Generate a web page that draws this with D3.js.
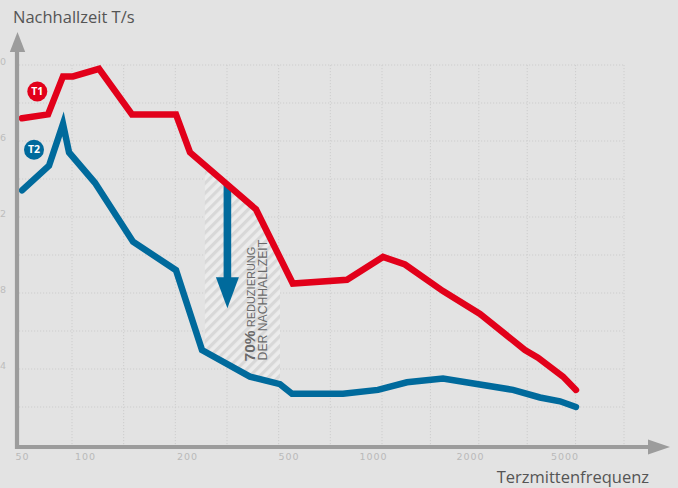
<!DOCTYPE html>
<html>
<head>
<meta charset="utf-8">
<script src="https://cdn.jsdelivr.net/npm/d3@7/dist/d3.min.js"></script>
<style>
  html, body { margin: 0; padding: 0; background: #e3e3e3; }
  svg { display: block; }
</style>
</head>
<body>
<svg id="chart" width="678" height="488"></svg>
<script>
// Third-octave frequencies (Hz) and reverberation times (s)
const freqT1 = [50, 66.6, 78.5, 87.6, 110, 137.6, 185.6, 205.5, 372.8, 518, 808, 1074, 1257, 1649, 2204, 3408, 3866, 4928, 5588];
const valT1  = [1.72, 1.74, 1.94, 1.94, 1.98, 1.74, 1.74, 1.54, 1.24, 0.85, 0.87, 0.99, 0.95, 0.81, 0.69, 0.50, 0.46, 0.36, 0.29];
const freqT2 = [50, 67.3, 78.5, 83.9, 107, 138.6, 185.6, 229, 353, 463, 514.5, 782, 1036, 1275, 1649, 3034, 3942, 4787, 5588];
const valT2  = [1.34, 1.47, 1.69, 1.54, 1.38, 1.07, 0.92, 0.50, 0.36, 0.32, 0.27, 0.27, 0.29, 0.33, 0.35, 0.29, 0.25, 0.23, 0.20];

const xTicks = [50, 100, 200, 500, 1000, 2000, 5000];
const yTicks = [0.4, 0.8, 1.2, 1.6, 2.0];
const yGrid  = [0.2, 0.4, 0.6, 0.8, 1.0, 1.2, 1.4, 1.6, 1.8, 2.0];
const gridCols = d3.range(12);

// highlighted reduction band (Hz) and the arrow inside it
const bandFrom = 235, bandTo = 463;
const arrowFreq = 288, arrowFrom = 1.37, arrowTo = 0.72, noteAt = 0.44;

const svg = d3.select("#chart");
const W = 678, H = 488;
const RED = "#e2001a", BLUE = "#006a9c", AXIS = "#9c9c9c";

svg.append("rect").attr("width", W).attr("height", H).attr("fill", "#e3e3e3");

const x = d3.scaleLog()
  .domain(xTicks)
  .range([22, 85, 187, 288.5, 373, 470, 564.5]);
const y = d3.scaleLinear().domain([0, 2]).range([445, 65]);
const gx = d3.scaleLinear().domain([0, 6, 11]).range([72, 382, 624]);

const defs = svg.append("defs");
const pat = defs.append("pattern")
  .attr("id", "hatch").attr("patternUnits", "userSpaceOnUse")
  .attr("width", 7).attr("height", 7)
  .attr("patternTransform", "rotate(45)");
pat.append("rect").attr("width", 7).attr("height", 7).attr("fill", "#ececec");
pat.append("rect").attr("width", 3.2).attr("height", 7).attr("fill", "#d8d8d8");

defs.append("clipPath").attr("id", "band")
  .append("rect")
  .attr("x", x(bandFrom)).attr("y", 0)
  .attr("width", x(bandTo) - x(bandFrom)).attr("height", H);

// dotted grid
const grid = svg.append("g").attr("stroke", "#cdcdcd").attr("stroke-width", 1)
  .attr("stroke-dasharray", "1.2,1.8").attr("fill", "none");
grid.selectAll("line.h").data(yGrid).join("line")
  .attr("class", "h")
  .attr("x1", 19).attr("x2", gx(11))
  .attr("y1", d => y(d)).attr("y2", d => y(d));
grid.selectAll("line.v").data(gridCols).join("line")
  .attr("class", "v")
  .attr("x1", d => gx(d)).attr("x2", d => gx(d))
  .attr("y1", y(2)).attr("y2", y(0));

// hatched area between the two curves
const t1 = freqT1.map((f, i) => [x(f), y(valT1[i])]);
const t2 = freqT2.map((f, i) => [x(f), y(valT2[i])]);
const poly = t1.concat(t2.slice().reverse());
svg.append("path")
  .attr("d", "M" + poly.map(p => p.join(",")).join("L") + "Z")
  .attr("fill", "url(#hatch)")
  .attr("clip-path", "url(#band)");

// arrow showing the reduction
const ax = x(arrowFreq);
svg.append("rect")
  .attr("x", ax - 3.8).attr("width", 7.6)
  .attr("y", y(arrowFrom)).attr("height", y(arrowTo) - y(arrowFrom) - 30)
  .attr("fill", BLUE);
const headTop = y(arrowTo) - 31;
svg.append("path")
  .attr("d", `M${ax - 11.5},${headTop}L${ax + 11.5},${headTop}L${ax},${y(arrowTo)}Z`)
  .attr("fill", BLUE);

// note text, rotated
const note = svg.append("g")
  .attr("transform", `translate(${ax + 27.5},${y(noteAt)}) rotate(-90)`)
  .attr("fill", "#6a6a6a")
  .attr("font-family", "Liberation Sans, Arial, sans-serif");
const l1 = note.append("text").attr("x", 0).attr("y", 0);
l1.append("tspan").attr("font-weight", "bold").attr("font-size", 15.5).text("70%");
l1.append("tspan").attr("font-size", 11).text(" REDUZIERUNG");
note.append("text").attr("x", 1).attr("y", 11.7).attr("font-size", 12.2)
  .text("DER NACHHALLZEIT");

// curves
const line = d3.line().curve(d3.curveLinear);
svg.append("path").attr("d", line(t2))
  .attr("fill", "none").attr("stroke", BLUE).attr("stroke-width", 6.5)
  .attr("stroke-linejoin", "miter").attr("stroke-miterlimit", 10).attr("stroke-linecap", "round");
svg.append("path").attr("d", line(t1))
  .attr("fill", "none").attr("stroke", RED).attr("stroke-width", 6.5)
  .attr("stroke-linejoin", "miter").attr("stroke-miterlimit", 10).attr("stroke-linecap", "round");

// axes with arrowheads
svg.append("line").attr("x1", 17).attr("x2", 17).attr("y1", 449).attr("y2", 50)
  .attr("stroke", AXIS).attr("stroke-width", 4.2);
svg.append("path").attr("d", "M9.8,52L25.2,52L17.5,32Z").attr("fill", AXIS);
svg.append("line").attr("x1", 15).attr("x2", 650).attr("y1", 447).attr("y2", 447)
  .attr("stroke", AXIS).attr("stroke-width", 4.2);
svg.append("path").attr("d", "M648,439.5L648,454.5L670,447Z").attr("fill", AXIS);

// tick labels
const xAxis = svg.append("g").attr("transform", "translate(0,450)")
  .call(d3.axisBottom(x).tickValues(xTicks).tickSize(0).tickFormat(d3.format("d")));
xAxis.select(".domain").remove();
xAxis.selectAll("text")
  .attr("fill", "#b9b9b9").attr("font-size", 9.5).attr("dy", "0.71em")
  .attr("y", 3).attr("letter-spacing", 1)
  .attr("font-family", "DejaVu Sans, sans-serif");

// the value labels run against the left edge; only their last digit fits
const yAxis = svg.append("g").attr("transform", "translate(6,0)")
  .call(d3.axisLeft(y).tickValues(yTicks).tickSize(0)
    .tickFormat(d => d.toFixed(1).replace(".", ",").slice(-1)));
yAxis.select(".domain").remove();
yAxis.selectAll("text")
  .attr("x", 0).attr("dy", "-1")
  .attr("fill", "#bdbdbd").attr("font-size", 9.5)
  .attr("font-family", "DejaVu Sans, sans-serif");

// axis titles
svg.append("text").attr("x", 13).attr("y", 23)
  .attr("font-family", "Open Sans, sans-serif").attr("font-size", 16.5)
  .attr("fill", "#555").text("Nachhallzeit T/s");
svg.append("text").attr("x", 649).attr("y", 483).attr("text-anchor", "end")
  .attr("font-family", "Open Sans, sans-serif").attr("font-size", 16.5)
  .attr("fill", "#555").text("Terzmittenfrequenz");

// series badges
const badges = [
  { label: "T1", color: RED, cx: 37.3, cy: 91.5 },
  { label: "T2", color: BLUE, cx: 34, cy: 149.7 }
];
const bg = svg.selectAll("g.badge").data(badges).join("g").attr("class", "badge")
  .attr("transform", d => `translate(${d.cx},${d.cy})`);
bg.append("circle").attr("r", 10).attr("fill", d => d.color);
bg.append("text").attr("text-anchor", "middle").attr("dy", "0.36em")
  .attr("fill", "#fff").attr("font-weight", "bold").attr("font-size", 10.5)
  .attr("font-family", "Open Sans, sans-serif").text(d => d.label);
</script>
</body>
</html>
